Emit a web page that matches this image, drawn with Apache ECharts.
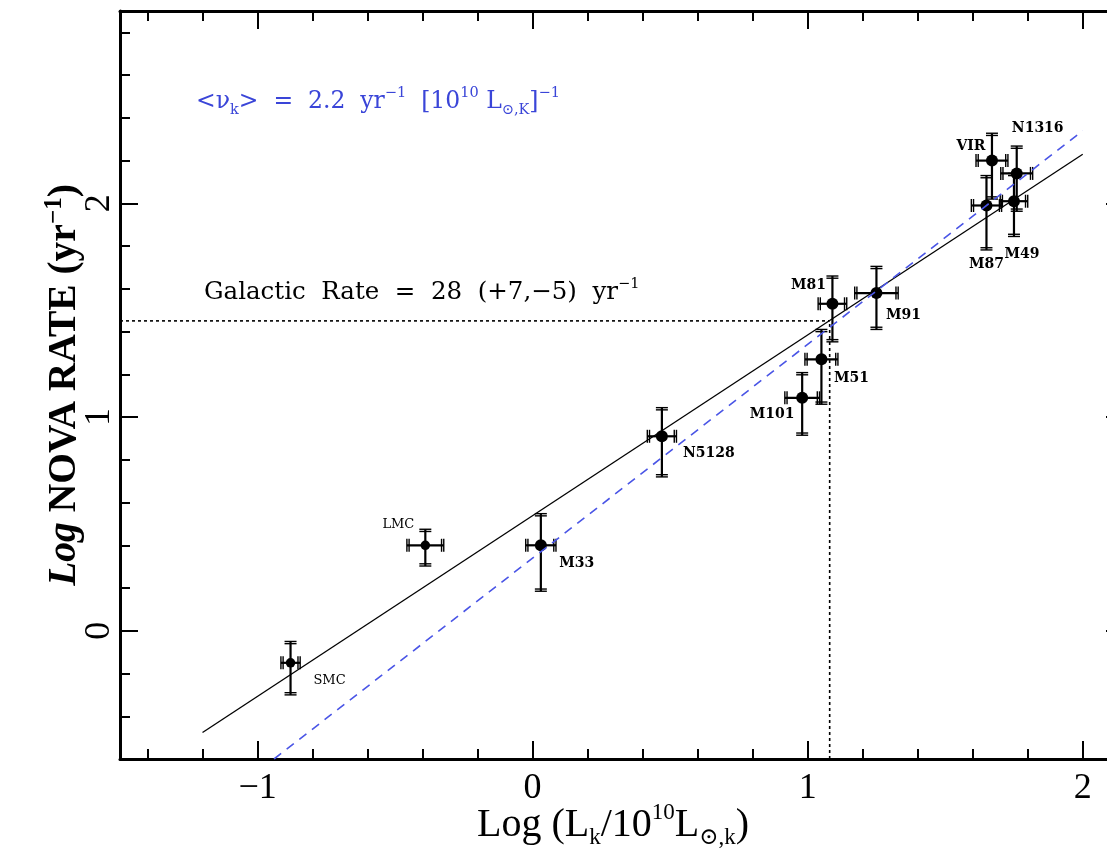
<!DOCTYPE html>
<html>
<head>
<meta charset="utf-8">
<script src="https://cdn.jsdelivr.net/npm/echarts@6/dist/echarts.min.js"></script>
<style>
  html, body { margin: 0; padding: 0; background: #fff; }
  #chart { width: 1107px; height: 856px; }
</style>
</head>
<body>
<div id="chart"></div>
<script>
// Galaxy sample: log K-band luminosity (10^10 L_sun,K) vs log nova rate (per yr)
const galaxyNames = ['SMC', 'LMC', 'M33', 'N5128', 'M101', 'M51', 'M81', 'M91', 'M87', 'VIR', 'M49', 'N1316'];
const logLum      = [-0.88, -0.39, 0.03, 0.47, 0.98, 1.05, 1.09, 1.25, 1.65, 1.67, 1.75, 1.76];
const logRate     = [-0.15, 0.40, 0.40, 0.91, 1.09, 1.27, 1.53, 1.58, 1.99, 2.20, 2.01, 2.14];
const lumErr      = [0.035, 0.067, 0.055, 0.053, 0.063, 0.060, 0.052, 0.079, 0.055, 0.058, 0.050, 0.058];
const rateErrUp   = [0.10, 0.075, 0.148, 0.134, 0.118, 0.14, 0.13, 0.125, 0.14, 0.128, 0.13, 0.128];
const rateErrDown = [0.15, 0.097, 0.215, 0.19, 0.175, 0.21, 0.178, 0.17, 0.208, 0.18, 0.165, 0.177];

// Fitted relation (solid) and constant luminosity-specific rate (dashed), as end points
const fitLineX  = [-1.2, 2.0];
const fitLineY  = [-0.476, 2.23];
const unitLineX = [-0.94, 2.0];
const unitLineY = [-0.60, 2.34];

// Galactic estimate
const galacticLogLum = 1.08;
const galacticLogRate = 1.45;

// Axis ranges and ticks
const X_MIN = -1.5, X_MAX = 2.15;
const Y_MIN = -0.6, Y_MAX = 2.9;
const xMajorTicks = [-1, 0, 1, 2];
const xMinorTicks = [-1.4, -1.2, -0.8, -0.6, -0.4, -0.2, 0.2, 0.4, 0.6, 0.8, 1.2, 1.4, 1.6, 1.8];
const yMajorTicks = [0, 1, 2];
const yMinorTicks = [-0.4, -0.2, 0.2, 0.4, 0.6, 0.8, 1.2, 1.4, 1.6, 1.8, 2.2, 2.4, 2.6, 2.8];

// Label placement per galaxy (pixels from the dot centre)
const labelOffsets = {
  SMC: [39, 18], LMC: [-27, -21], M33: [36, 18], N5128: [47, 17], M101: [-30, 17], M51: [30, 19],
  M81: [-24, -18], M91: [27, 22], VIR: [-21, -14], N1316: [21, -45], M87: [0, 59], M49: [8, 53]
};
const plainLabels = ['SMC', 'LMC'];

const SERIF = '"Liberation Serif", "DejaVu Serif", serif';
const INK = '#000';
const BLUE = '#3a45d8';

function fmtTick(v) { return v < 0 ? '\u2212' + Math.abs(v) : String(v); }

function makeAxis(kind, position, ticks, len, withLine, withLabels) {
  const a = {
    type: 'value', position: position,
    min: kind === 'x' ? X_MIN : Y_MIN, max: kind === 'x' ? X_MAX : Y_MAX,
    axisLine: { show: withLine, onZero: false, lineStyle: { color: INK, width: 3 } },
    axisTick: { show: true, inside: true, length: len, customValues: ticks, lineStyle: { color: INK, width: 2 } },
    axisLabel: { show: false },
    splitLine: { show: false },
    minorTick: { show: false }
  };
  if (withLabels) {
    a.axisLabel = { show: true, customValues: ticks, formatter: fmtTick, margin: 12,
      fontFamily: SERIF, fontSize: 36, color: INK };
  }
  return a;
}

const xBottom = makeAxis('x', 'bottom', xMajorTicks, 18, true, true);
xBottom.name = '{m|Log (L}{s|k}{m|/10}{p|10}{m|L}{s|\u2299,k}{m|)}';
xBottom.nameLocation = 'middle';
xBottom.nameGap = 42;
xBottom.nameMoveOverlap = false;
xBottom.nameTextStyle = {
  padding: [0, 18, 0, 0],
  rich: {
    m: { fontFamily: SERIF, fontSize: 40, color: INK, lineHeight: 48 },
    s: { fontFamily: SERIF, fontSize: 23, color: INK, lineHeight: 18, verticalAlign: 'bottom' },
    p: { fontFamily: SERIF, fontSize: 23, color: INK, lineHeight: 25, verticalAlign: 'top' }
  }
};

const yLeft = makeAxis('y', 'left', yMajorTicks, 18, true, true);
yLeft.axisLabel.rotate = 90;
yLeft.axisLabel.margin = 2;
yLeft.name = '{i|Log }{m|NOVA RATE (yr}{p|\u22121}{m|)}';
yLeft.nameLocation = 'middle';
yLeft.nameGap = 32;
yLeft.nameRotate = 90;
yLeft.nameMoveOverlap = false;
yLeft.nameTextStyle = {
  rich: {
    i: { fontFamily: SERIF, fontSize: 39.5, fontWeight: 'bold', fontStyle: 'italic', color: INK, lineHeight: 46 },
    m: { fontFamily: SERIF, fontSize: 39.5, fontWeight: 'bold', color: INK, lineHeight: 46 },
    p: { fontFamily: SERIF, fontSize: 25, fontWeight: 'bold', color: INK, lineHeight: 26, verticalAlign: 'top' }
  }
};

const errorData = galaxyNames.map((n, i) => [logLum[i], logRate[i], lumErr[i], rateErrUp[i], rateErrDown[i]]);
const dotData = galaxyNames.map((n, i) => ({
  name: n,
  value: [logLum[i], logRate[i]],
  label: {
    offset: labelOffsets[n],
    color: INK,
    fontWeight: plainLabels.includes(n) ? 'normal' : 'bold',
    fontSize: plainLabels.includes(n) ? 13 : 14
  }
}));

function renderErrorBar(params, api) {
  const x = api.value(0), y = api.value(1), ex = api.value(2), up = api.value(3), dn = api.value(4);
  const top = api.coord([x, y + up]);
  const bot = api.coord([x, y - dn]);
  const lft = api.coord([x - ex, y]);
  const rgt = api.coord([x + ex, y]);
  const cw = 6, ch = 6.5, g = 2.2;
  const st = { stroke: INK, lineWidth: 2.2 };
  const thin = { stroke: INK, lineWidth: 1.4 };
  const ln = (x1, y1, x2, y2, s) => ({ type: 'line', shape: { x1, y1, x2, y2 }, style: s });
  return {
    type: 'group',
    children: [
      ln(top[0], top[1], bot[0], bot[1], st),
      ln(lft[0], lft[1], rgt[0], rgt[1], st),
      ln(top[0] - cw, top[1], top[0] + cw, top[1], thin),
      ln(top[0] - cw, top[1] + g, top[0] + cw, top[1] + g, thin),
      ln(bot[0] - cw, bot[1], bot[0] + cw, bot[1], thin),
      ln(bot[0] - cw, bot[1] - g, bot[0] + cw, bot[1] - g, thin),
      ln(lft[0], lft[1] - ch, lft[0], lft[1] + ch, thin),
      ln(lft[0] + g, lft[1] - ch, lft[0] + g, lft[1] + ch, thin),
      ln(rgt[0], rgt[1] - ch, rgt[0], rgt[1] + ch, thin),
      ln(rgt[0] - g, rgt[1] - ch, rgt[0] - g, rgt[1] + ch, thin)
    ]
  };
}

const chart = echarts.init(document.getElementById('chart'), null, { renderer: 'canvas' });

chart.setOption({
  backgroundColor: '#fff',
  animation: false,
  grid: { left: 120, top: 11, width: 1004, height: 748, containLabel: false, outerBoundsMode: 'none' },
  xAxis: [
    xBottom,
    makeAxis('x', 'bottom', xMinorTicks, 10, false, false),
    makeAxis('x', 'top', xMajorTicks, 18, true, false),
    makeAxis('x', 'top', xMinorTicks, 10, false, false)
  ],
  yAxis: [
    yLeft,
    makeAxis('y', 'left', yMinorTicks, 10, false, false),
    makeAxis('y', 'right', yMajorTicks, 18, true, false),
    makeAxis('y', 'right', yMinorTicks, 10, false, false)
  ],
  graphic: [
    {
      type: 'text', left: 196, top: 86, z: 10,
      style: {
        text: '{m|<\u03bd}{s|k}{m|>  =  2.2  yr}{p|\u22121}{m|  [10}{p|10}{m| L}{s|\u2299,K}{m|]}{p|\u22121}',
        rich: {
          m: { fontFamily: '"DejaVu Serif", serif', fontSize: 23.5, fill: BLUE, lineHeight: 32 },
          s: { fontFamily: '"DejaVu Serif", serif', fontSize: 14.5, fill: BLUE, lineHeight: 14, verticalAlign: 'bottom' },
          p: { fontFamily: '"DejaVu Serif", serif', fontSize: 14.5, fill: BLUE, lineHeight: 18, verticalAlign: 'top' }
        }
      }
    },
    {
      type: 'text', left: 204, top: 277, z: 10,
      style: {
        text: '{m|Galactic  Rate  =  28  (+7,\u22125)  yr}{p|\u22121}',
        rich: {
          m: { fontFamily: '"DejaVu Serif", serif', fontSize: 24.5, fill: INK, lineHeight: 32 },
          p: { fontFamily: '"DejaVu Serif", serif', fontSize: 14.5, fill: INK, lineHeight: 18, verticalAlign: 'top' }
        }
      }
    }
  ],
  series: [
    {
      name: 'fit', type: 'line', showSymbol: false, silent: true, z: 2,
      data: fitLineX.map((x, i) => [x, fitLineY[i]]),
      lineStyle: { color: INK, width: 1.3 }
    },
    {
      name: 'rate per unit luminosity', type: 'line', showSymbol: false, silent: true, z: 5,
      data: unitLineX.map((x, i) => [x, unitLineY[i]]),
      lineStyle: { color: '#4a55e6', width: 1.6, type: [9, 7] }
    },
    {
      name: 'galactic rate', type: 'line', showSymbol: false, silent: true, z: 2,
      data: [[X_MIN, galacticLogRate], [galacticLogLum, galacticLogRate]],
      lineStyle: { color: INK, width: 1.6, type: [3, 3] }
    },
    {
      name: 'galactic luminosity', type: 'line', showSymbol: false, silent: true, z: 2,
      data: [[galacticLogLum, Y_MIN], [galacticLogLum, galacticLogRate]],
      lineStyle: { color: INK, width: 1.6, type: [3, 3] }
    },
    {
      name: 'errors', type: 'custom', z: 3, silent: true,
      renderItem: renderErrorBar,
      encode: { x: 0, y: 1 },
      data: errorData
    },
    {
      name: 'galaxies', type: 'scatter', z: 4,
      symbol: 'circle',
      symbolSize: (v, p) => plainLabels.includes(p.name) ? 9.5 : 12,
      itemStyle: { color: INK, opacity: 1 },
      label: {
        show: true, position: 'inside', formatter: '{b}', opacity: 1,
        fontFamily: '"DejaVu Serif", serif', color: INK, textBorderWidth: 0
      },
      data: dotData
    }
  ]
});
</script>
</body>
</html>
